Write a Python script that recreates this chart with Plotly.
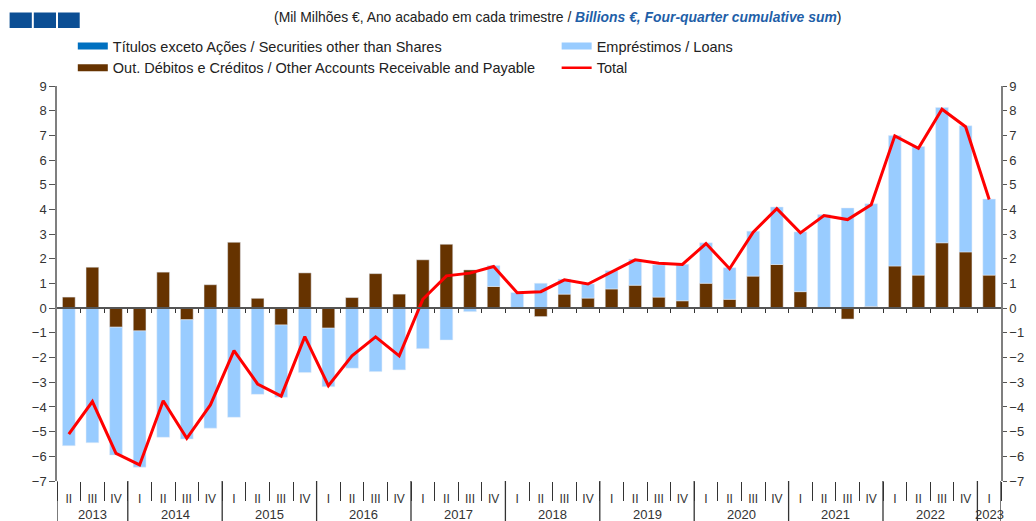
import plotly.graph_objects as go

# ---------------- data ----------------
quarter_labels = ["II", "III", "IV"] + ["I", "II", "III", "IV"] * 9 + ["I"]
year_labels = ["2013"] * 3 + [str(y) for y in range(2014, 2023) for _ in range(4)] + ["2023"]

securities = [0.0] * 40

loans = [-5.57, -5.45, -5.18,
         -5.52, -5.23, -4.83, -4.86,
         -4.42, -3.49, -2.93, -2.61,
         -2.37, -2.43, -2.57, -2.50,
         -1.64, -1.29, -0.14, 0.85,
         0.63, 1.01, 0.61, 0.57,
         0.74, 1.06, 1.31, 1.48,
         1.64, 1.28, 1.82, 2.33,
         2.42, 3.77, 4.06, 4.16,
         5.28, 5.21, 5.48, 5.11,
         3.08]

other_accounts = [0.45, 1.66, -0.77,
                  -0.92, 1.46, -0.47, 0.95,
                  2.67, 0.40, -0.68, 1.43,
                  -0.81, 0.43, 1.40, 0.57,
                  1.96, 2.59, 1.55, 0.88,
                  0.00, -0.34, 0.57, 0.41,
                  0.78, 0.93, 0.45, 0.30,
                  1.01, 0.36, 1.30, 1.77,
                  0.67, 0.02, -0.44, 0.07,
                  1.71, 1.34, 2.65, 2.28,
                  1.34]

total = [-5.10, -3.78, -5.88,
         -6.35, -3.75, -5.27, -3.92,
         -1.72, -3.07, -3.56, -1.15,
         -3.14, -1.93, -1.16, -1.93,
         0.36, 1.31, 1.42, 1.69,
         0.63, 0.67, 1.15, 0.98,
         1.48, 1.96, 1.82, 1.77,
         2.62, 1.60, 3.08, 4.03,
         3.05, 3.75, 3.59, 4.19,
         6.98, 6.48, 8.06, 7.35,
         4.40]

names = ["Títulos exceto Ações / Securities other than Shares",
         "Empréstimos / Loans",
         "Out. Débitos e Créditos / Other Accounts Receivable and Payable",
         "Total"]
colors = ["#0070c0", "#99ccff", "#663300", "#ff0000"]

y_min, y_max = -7, 9
# ---------------------------------------

W, H = 1036, 521
ML, MR, MT, MB = 57, 23, 86, 40
pw, ph = W - ML - MR, H - MT - MB
FONT = "Arial, Liberation Sans, sans-serif"
n = len(quarter_labels)
xpos = list(range(n))


def px_x(p):
    return (p - ML) / pw


def px_y(p):
    return (H - MB - p) / ph


fig = go.Figure()

# bars (brown stacked next to zero, then loans beyond it)
fig.add_trace(go.Bar(x=xpos, y=securities, marker_color=colors[0], name=names[0],
                     legendgroup="sec", showlegend=False))
fig.add_trace(go.Bar(x=xpos, y=other_accounts, marker_color=colors[2], name=names[2],
                     legendgroup="oth", showlegend=False))
fig.add_trace(go.Bar(x=xpos, y=loans, marker_color=colors[1], name=names[1],
                     legendgroup="loa", showlegend=False))

# total line on overlay axes (also carries right-hand y axis & zero-line ticks)
fig.add_trace(go.Scatter(x=xpos, y=total, mode="lines", name=names[3],
                         line=dict(color=colors[3], width=3), xaxis="x2", yaxis="y2",
                         legendgroup="tot", showlegend=False))

# legend entries (wide swatches as in the original), two columns
for nm, col, grp, w, lg in [(names[0], colors[0], "sec", 7, "legend"),
                            (names[2], colors[2], "oth", 7, "legend"),
                            (names[1], colors[1], "loa", 7, "legend2"),
                            (names[3], colors[3], "tot", 2.5, "legend2")]:
    fig.add_trace(go.Scatter(x=[None], y=[None], mode="lines", name=nm, legendgroup=grp,
                             line=dict(color=col, width=w), xaxis="x2", yaxis="y2",
                             legend=lg))

zero_pos = (0 - y_min) / (y_max - y_min)
boundaries = [i + 0.5 for i in range(-1, n)]

legend_common = dict(orientation="v", xanchor="left", yanchor="top", traceorder="normal",
                     font=dict(size=14.5, color="#222222", family=FONT),
                     bgcolor="rgba(0,0,0,0)", itemwidth=30, tracegroupgap=0)

fig.update_layout(
    width=W, height=H,
    margin=dict(l=ML, r=MR, t=MT, b=MB),
    paper_bgcolor="white", plot_bgcolor="white",
    barmode="relative", bargap=0.46,
    font=dict(family=FONT, size=12, color="#333333"),
    xaxis=dict(range=[-0.5, n - 0.5], showgrid=False, zeroline=False, showline=False,
               tickmode="array", tickvals=xpos, ticktext=quarter_labels,
               ticks="outside", ticklen=7, tickcolor="rgba(0,0,0,0)",
               tickfont=dict(size=12, color="#333333"),
               minor=dict(tickmode="array", tickvals=boundaries, ticks="outside",
                          ticklen=19, tickcolor="#333333", tickwidth=1.3, showgrid=False)),
    xaxis2=dict(overlaying="x", anchor="free", position=zero_pos, range=[-0.5, n - 0.5],
                showgrid=False, zeroline=False, showline=True, linecolor="#555555",
                linewidth=1.5, ticks="outside", ticklen=4, tickcolor="#333333",
                tickvals=boundaries[1:-1], showticklabels=False),
    yaxis=dict(range=[y_min, y_max], dtick=1, showgrid=False, zeroline=False,
               showline=True, linecolor="#7f7f7f", linewidth=1.5, ticks="outside",
               ticklen=6, tickcolor="#555555", tickfont=dict(size=13, color="#333333")),
    yaxis2=dict(range=[y_min, y_max], dtick=1, overlaying="y", side="right", anchor="x2",
                showgrid=False, zeroline=False, showline=True, linecolor="#7f7f7f",
                linewidth=1.5, ticks="outside", ticklen=4, tickcolor="#555555",
                tickfont=dict(size=13, color="#333333")),
    legend=dict(x=px_x(73), y=px_y(30), **legend_common),
    legend2=dict(x=px_x(563), y=px_y(30), **legend_common),
    showlegend=True,
)

# year labels and year dividers
starts = [i for i in range(n) if i == 0 or year_labels[i] != year_labels[i - 1]]
ends = starts[1:] + [n]
for s, e in zip(starts, ends):
    fig.add_annotation(text=year_labels[s], xref="x", yref="paper", x=(s + e - 1) / 2,
                       y=px_y(514), xanchor="center", yanchor="middle", showarrow=False,
                       font=dict(size=13, color="#333333", family=FONT))
for b in starts + [n]:
    fig.add_shape(type="line", xref="x", yref="paper", x0=b - 0.5, x1=b - 0.5,
                  y0=0, y1=px_y(H), line=dict(color="#333333", width=1.3))

# title
fig.add_annotation(
    text="(Mil Milhões €, Ano acabado em cada trimestre / "
         "<b><i><span style='color:#1f5fa8'>Billions €, Four-quarter cumulative sum</span></i></b>)",
    xref="paper", yref="paper", x=px_x(564), y=px_y(17), xanchor="center", yanchor="middle",
    showarrow=False, font=dict(size=13.9, color="#222222", family=FONT))

# logo squares
for x0, x1 in [(9, 31.5), (33.5, 56), (58, 80)]:
    fig.add_shape(type="rect", xref="paper", yref="paper",
                  x0=px_x(x0), x1=px_x(x1), y0=px_y(28), y1=px_y(12.5),
                  fillcolor="#0b4e94", line=dict(width=0))

fig.write_html("out.html", post_script="document.body.style.margin='0px';",
               config={"displayModeBar": False})
